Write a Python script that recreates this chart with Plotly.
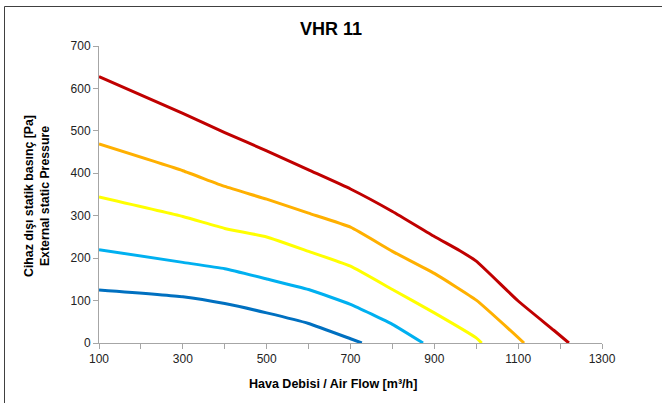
import plotly.graph_objects as go

# --- data ---
x_red = [100, 300, 400, 500, 600, 700, 800, 900, 960, 1000, 1100, 1185, 1221]
y_red = [628, 541, 496, 453, 408, 363, 310, 251, 218, 193, 99, 30, 0]

x_orange = [100, 300, 400, 500, 600, 700, 800, 900, 1000, 1114]
y_orange = [469, 406, 369, 339, 306, 273, 216, 164, 101, 0]

x_yellow = [100, 300, 400, 500, 600, 700, 800, 900, 1000, 1013]
y_yellow = [344, 298, 270, 250, 216, 181, 126, 71, 12, 0]

x_lblue = [100, 300, 400, 500, 600, 700, 800, 873]
y_lblue = [220, 190, 175, 151, 126, 91, 44, 0]

x_dblue = [100, 300, 400, 500, 600, 700, 727]
y_dblue = [125, 109, 93, 71, 46, 10, 0]

series = [
    (x_red, y_red, "#C00000"),
    (x_orange, y_orange, "#FFB000"),
    (x_yellow, y_yellow, "#FFFF00"),
    (x_lblue, y_lblue, "#00B0F0"),
    (x_dblue, y_dblue, "#0070C0"),
]

x_tickvals = list(range(100, 1301, 100))
x_ticktext = [str(v) if (v - 100) % 200 == 0 else "" for v in x_tickvals]
y_tickvals = list(range(0, 701, 100))

title_text = "VHR 11"
ytitle_lines = ["Cihaz dışı statik basınç [Pa]", "External static Pressure"]
xtitle_text = "Hava Debisi / Air Flow [m³/h]"

FONT = "Liberation Sans, Arial, sans-serif"

fig = go.Figure()
for xs, ys, c in series:
    fig.add_trace(go.Scatter(x=xs, y=ys, mode="lines",
                             line=dict(color=c, width=3, shape="spline", smoothing=0.4),
                             showlegend=False, hoverinfo="skip"))

W, H = 662, 403
L, R, T, B = 99, 60, 46, 60
pw, ph = W - L - R, H - T - B

def px(x):
    return (x - L) / pw

def py(y):
    return (H - B - y) / ph

fig.update_layout(
    width=W, height=H,
    margin=dict(l=L, r=R, t=T, b=B),
    paper_bgcolor="white", plot_bgcolor="white",
    font=dict(family=FONT, size=12, color="#222222"),
    showlegend=False,
    xaxis=dict(range=[100, 1300], tickvals=x_tickvals, ticktext=x_ticktext,
               showgrid=False, zeroline=False, showline=True, linecolor="#A6A6A6",
               linewidth=1, ticks="outside", ticklen=5, tickcolor="#A6A6A6",
               tickfont=dict(size=12, color="#222222"), fixedrange=True),
    yaxis=dict(range=[0, 700], tickvals=y_tickvals,
               showgrid=False, zeroline=False, showline=True, linecolor="#A6A6A6",
               linewidth=1, ticks="outside", ticklen=5, tickcolor="#A6A6A6",
               tickfont=dict(size=12, color="#222222"), fixedrange=True),
    annotations=[
        dict(text="<b>%s</b>" % title_text, x=px(331), y=py(29), xref="paper", yref="paper",
             showarrow=False, font=dict(size=18, color="#000000", family=FONT),
             xanchor="center", yanchor="middle"),
        dict(text="<br>".join("<b>%s</b>" % s for s in ytitle_lines), x=px(37), y=py(196),
             xref="paper", yref="paper", showarrow=False, textangle=-90,
             font=dict(size=12.3, color="#000000", family=FONT),
             xanchor="center", yanchor="middle"),
        dict(text="<b>%s</b>" % xtitle_text, x=px(333), y=py(384), xref="paper", yref="paper",
             showarrow=False, font=dict(size=12.5, color="#000000", family=FONT),
             xanchor="center", yanchor="middle"),
    ],
    shapes=[
        dict(type="rect", xref="paper", yref="paper", x0=px(4.5), x1=px(670), y0=py(410), y1=py(6.5),
             line=dict(color="#404040", width=1), fillcolor="rgba(0,0,0,0)", layer="below"),
    ],
)

fig.write_html("out.html", config={"displayModeBar": False},
               post_script="document.body.style.margin='0px';")
